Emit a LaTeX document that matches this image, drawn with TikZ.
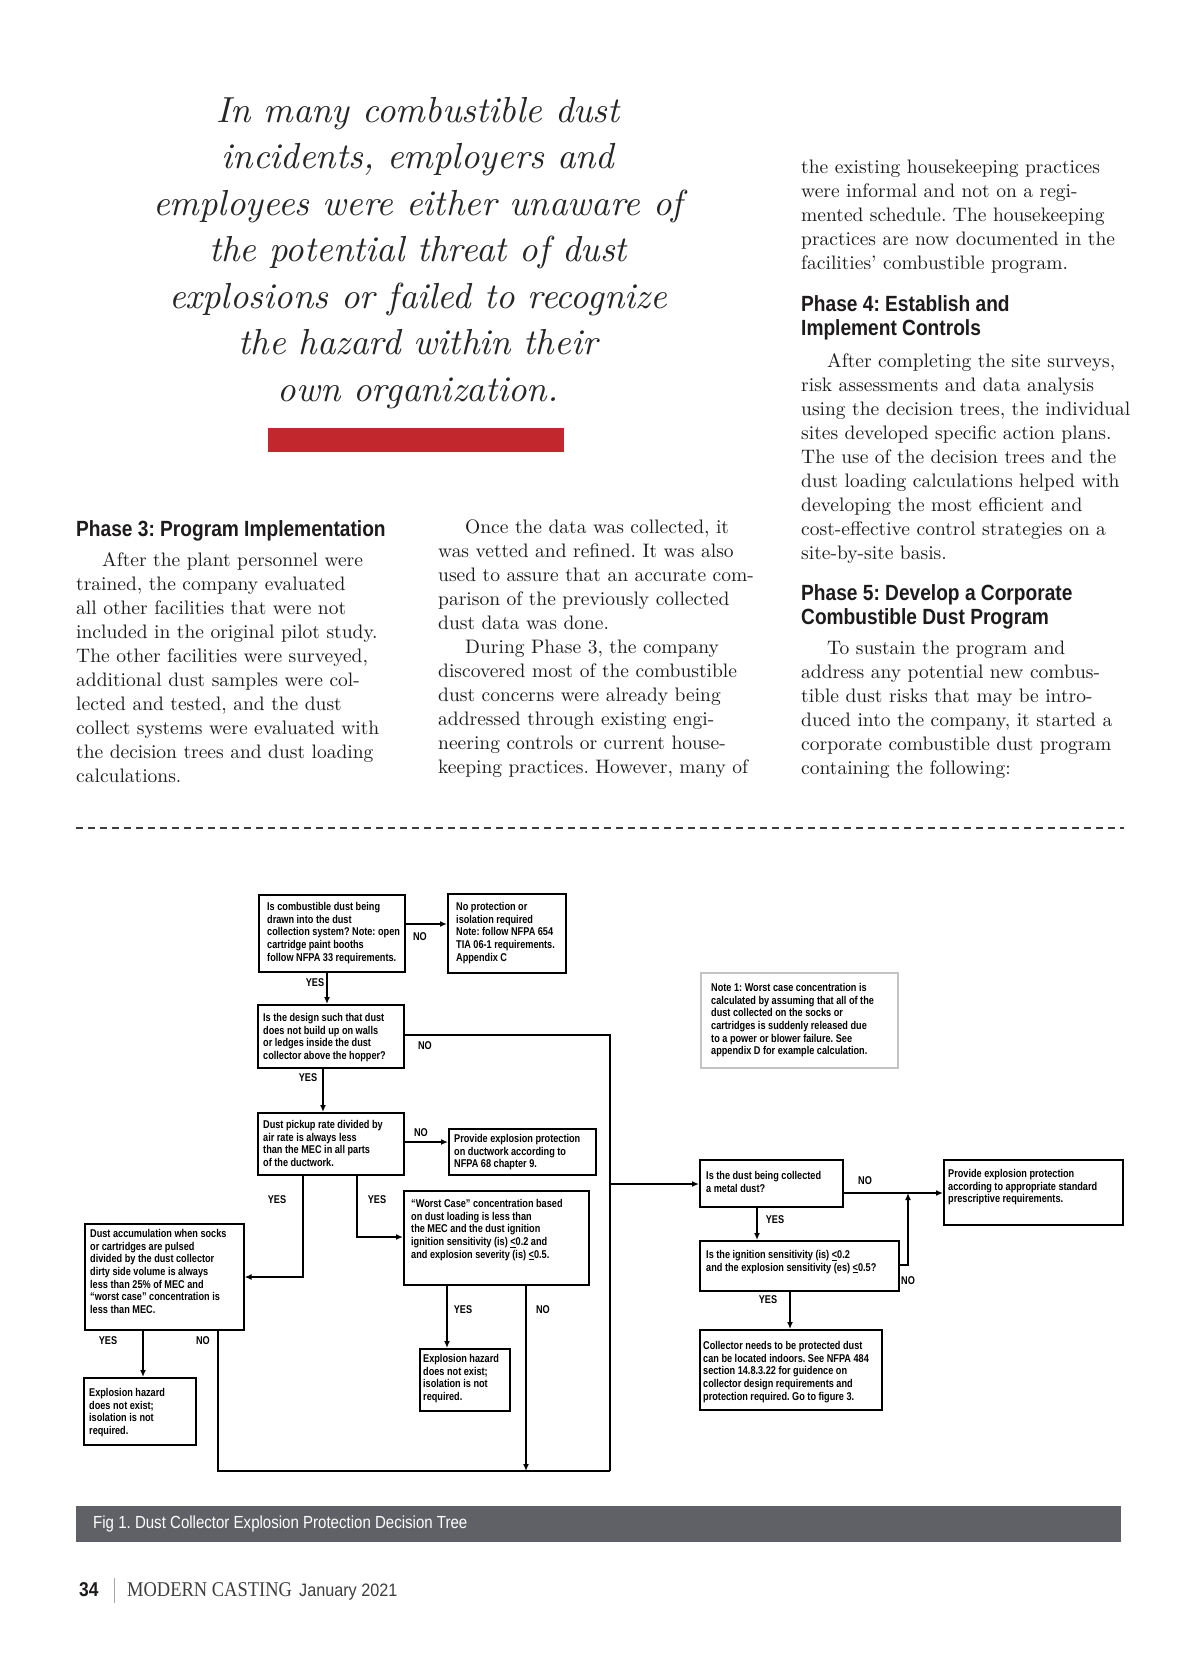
\documentclass[tikz,border=0pt]{standalone}
\usepackage{fontspec}
\usetikzlibrary{arrows.meta,calc}
\newfontfamily\chartfont[FakeStretch=0.81]{Liberation Sans}
\newfontfamily\headfont[FakeStretch=0.87]{Liberation Sans}
\newfontfamily\capfont[FakeStretch=0.86]{Liberation Sans}
\newfontfamily\datefont[FakeStretch=0.9]{Liberation Sans}
\newfontfamily\mastfont[FakeStretch=0.88]{Liberation Serif}
\newfontfamily\bodyfont{lmroman10-regular.otf}
\newfontfamily\quotefont{lmroman10-italic.otf}
\definecolor{ink}{HTML}{1E1B1C}
\definecolor{quoteink}{HTML}{262626}
\definecolor{redbar}{HTML}{C1272D}
\definecolor{capbar}{HTML}{5F6166}
\definecolor{notegray}{HTML}{C4C4C4}
\frenchspacing
\begin{document}
\begin{tikzpicture}[x=1pt,y=-1pt,
  pq/.style={anchor=base,inner sep=0,text=quoteink,font=\quotefont\fontsize{36.2}{46}\selectfont},
  head/.style={anchor=base west,inner sep=0,text=ink,font=\headfont\bfseries\fontsize{22}{24}\selectfont},
  bodyt/.style={anchor=base west,inner sep=0,text=ink,font=\bodyfont\fontsize{19.5}{24}\selectfont},
  fbox/.style={draw=black,line width=1.6pt,anchor=north west,inner sep=0},
  notebox/.style={draw=notegray,line width=2pt,anchor=north west,inner sep=0},
  ctext/.style={anchor=north west,inner sep=0,align=left,text=black,font=\chartfont\bfseries\fontsize{11.3}{12.7}\selectfont},
  clabel/.style={inner sep=0,text=black,font=\chartfont\bfseries\fontsize{11.3}{12}\selectfont},
  conn/.style={draw=black,line width=1.6pt},
  arr/.style={conn,-{Latex[length=7pt,width=6pt]}}
]
\useasboundingbox (0,0) rectangle (1200,1655);
\fill[white] (0,0) rectangle (1200,1655);

% pull quote
\foreach \tx [count=\i from 0] in {In many combustible dust,{incidents, employers and},employees were either unaware of,the potential threat of dust,explosions or failed to recognize,the hazard within their,own organization.}
  \node[pq] (pq\i) at (418,122+46.5*\i) {\tx};
\node[fill=redbar,minimum width=296,minimum height=24,anchor=north west,inner sep=0] (rbar) at (268,428) {};

% column 1
\node[head] (h3) at (76,536) {Phase 3: Program Implementation};
\foreach \dx/\tx [count=\i from 0] in {26/{After the plant personnel were},0/{trained, the company evaluated},0/{all other facilities that were not},0/{included in the original pilot study.},0/{The other facilities were surveyed,},0/{additional dust samples were col-},0/{lected and tested, and the dust},0/{collect systems were evaluated with},0/{the decision trees and dust loading},0/{calculations.}}
  \node[bodyt] (ca\i) at (76+\dx,566+24*\i) {\tx};

% column 2
\foreach \dx/\tx [count=\i from 0] in {27/{Once the data was collected, it},0/{was vetted and refined. It was also},0/{used to assure that an accurate com-},0/{parison of the previously collected},0/{dust data was done.},27/{During Phase 3, the company},0/{discovered most of the combustible},0/{dust concerns were already being},0/{addressed through existing engi-},0/{neering controls or current house-},0/{keeping practices. However, many of}}
  \node[bodyt] (cb\i) at (438+\dx,533+24*\i) {\tx};

% column 3
\foreach \dx/\tx [count=\i from 0] in {0/{the existing housekeeping practices},0/{were informal and not on a regi-},0/{mented schedule. The housekeeping},0/{practices are now documented in the},0/{facilities’ combustible program.}}
  \node[bodyt] (cc\i) at (801+\dx,173+24*\i) {\tx};
\node[head] (h4a) at (801,311) {Phase 4: Establish and};
\node[head] (h4b) at (801,335) {Implement Controls};
\foreach \dx/\tx [count=\i from 0] in {26/{After completing the site surveys,},0/{risk assessments and data analysis},0/{using the decision trees, the individual},0/{sites developed specific action plans.},0/{The use of the decision trees and the},0/{dust loading calculations helped with},0/{developing the most efficient and},0/{cost-effective control strategies on a},0/{site-by-site basis.}}
  \node[bodyt] (cd\i) at (801+\dx,367+24*\i) {\tx};
\node[head] (h5a) at (801,600) {Phase 5: Develop a Corporate};
\node[head] (h5b) at (801,624) {Combustible Dust Program};
\foreach \dx/\tx [count=\i from 0] in {26/{To sustain the program and},0/{address any potential new combus-},0/{tible dust risks that may be intro-},0/{duced into the company, it started a},0/{corporate combustible dust program},0/{containing the following:}}
  \node[bodyt] (ce\i) at (801+\dx,654+24*\i) {\tx};

% dashed separator
\draw[ink!85,line width=1.6pt,dash pattern=on 7.3pt off 4.7pt] (76,828) -- (1124,828);

% ---------------- flowchart boxes
\node[fbox,minimum width=146,minimum height=77] (b1) at (258,894) {};
\node[fbox,minimum width=118,minimum height=79] (b2) at (447,893) {};
\node[fbox,minimum width=146,minimum height=63] (b3) at (257,1004) {};
\node[fbox,minimum width=146,minimum height=62] (b4) at (257,1112) {};
\node[fbox,minimum width=147,minimum height=46] (b5) at (448,1128) {};
\node[fbox,minimum width=159,minimum height=106] (b6) at (84,1223) {};
\node[fbox,minimum width=185,minimum height=94] (b7) at (403,1190) {};
\node[fbox,minimum width=112,minimum height=67] (b8) at (83,1377) {};
\node[fbox,minimum width=90,minimum height=62] (b9) at (419,1348) {};
\node[fbox,minimum width=143,minimum height=47] (b10) at (699,1159) {};
\node[fbox,minimum width=179,minimum height=65] (b11) at (943,1159) {};
\node[fbox,minimum width=199,minimum height=50] (b12) at (699,1240) {};
\node[fbox,minimum width=182,minimum height=80] (b13) at (699,1329) {};
\node[notebox,minimum width=197,minimum height=95] (note) at (700,972) {};

\node[ctext] (b1t) at (267,902) {Is combustible dust being\\drawn into the dust\\collection system? Note: open\\cartridge paint booths\\follow NFPA 33 requirements.};
\node[ctext] (b2t) at (456,902) {No protection or\\isolation required\\Note: follow NFPA 654\\TIA 06-1 requirements.\\Appendix C};
\node[ctext] (b3t) at (263,1013) {Is the design such that dust\\does not build up on walls\\or ledges inside the dust\\collector above the hopper?};
\node[ctext] (b4t) at (263,1120) {Dust pickup rate divided by\\air rate is always less\\than the MEC in all parts\\of the ductwork.};
\node[ctext] (b5t) at (454,1134) {Provide explosion protection\\on ductwork according to\\NFPA 68 chapter 9.};
\node[ctext] (b6t) at (90,1229) {Dust accumulation when socks\\or cartridges are pulsed\\divided by the dust collector\\dirty side volume is always\\less than 25\% of MEC and\\“worst case” concentration is\\less than MEC.};
\node[ctext] (b7t) at (411,1199) {“Worst Case” concentration based\\on dust loading is less than\\the MEC and the dust ignition\\ignition sensitivity (is) \underline{<}0.2 and\\and explosion severity (is) \underline{<}0.5.};
\node[ctext] (b8t) at (89,1388) {Explosion hazard\\does not exist;\\isolation is not\\required.};
\node[ctext] (b9t) at (423,1354) {Explosion hazard\\does not exist;\\isolation is not\\required.};
\node[ctext] (b10t) at (706,1171) {Is the dust being collected\\a metal dust?};
\node[ctext] (b11t) at (948,1169) {Provide explosion protection\\according to appropriate standard\\prescriptive requirements.};
\node[ctext] (b12t) at (706,1250) {Is the ignition sensitivity (is) \underline{<}0.2\\and the explosion sensitivity (es) \underline{<}0.5?};
\node[ctext] (b13t) at (703,1341) {Collector needs to be protected dust\\can be located indoors. See NFPA 484\\section 14.8.3.22 for guidence on\\collector design requirements and\\protection required. Go to figure 3.};
\node[ctext] (notet) at (711,983) {Note 1: Worst case concentration is\\calculated by assuming that all of the\\dust collected on the socks or\\cartridges is suddenly released due\\to a power or blower failure. See\\appendix D for example calculation.};

% junction coordinates
\coordinate (m0) at (610,1035);
\coordinate (m1) at (610,1471);
\coordinate (m3) at (610,1184);
\coordinate (m4) at (526,1471);
\coordinate (n1) at (908,1193);

% connectors
\draw[arr] ([yshift=-30pt]b1.north east) -- ([yshift=-31pt]b2.north west);
\draw[arr] ([xshift=69pt]b1.south west) -- ([xshift=70pt]b3.north west);
\draw[conn] ([yshift=-31pt]b3.north east) -- (m0) -- (m1);
\draw[arr] ([xshift=66pt]b3.south west) -- ([xshift=66pt]b4.north west);
\draw[arr] ([yshift=-30pt]b4.north east) -- ([yshift=-14pt]b5.north west);
\draw[arr] ([xshift=46pt]b4.south west) |- ([yshift=-54pt]b6.north east);
\draw[arr] ([xshift=100pt]b4.south west) |- ([yshift=-47pt]b7.north west);
\draw[arr] ([xshift=59pt]b6.south west) -- ([xshift=60pt]b8.north west);
\draw[conn] ([xshift=134pt]b6.south west) |- (m1);
\draw[arr] ([xshift=44pt]b7.south west) -- ([xshift=28pt]b9.north west);
\draw[arr] ([xshift=123pt]b7.south west) -- (m4);
\draw[arr] (m3) -- (m3 -| b10.west);
\draw[arr] ([yshift=-34pt]b10.north east) -- ([yshift=-34pt]b11.north west);
\draw[arr] ([xshift=58pt]b10.south west) -- ([xshift=58pt]b12.north west);
\draw[arr] ([yshift=-25pt]b12.north east) -| (n1);
\draw[arr] ([xshift=91pt]b12.south west) -- ([xshift=91pt]b13.north west);

% connector labels
\node[clabel] (l1) at (420,937) {NO};
\node[clabel] (l2) at (315,983) {YES};
\node[clabel] (l3) at (425,1046) {NO};
\node[clabel] (l4) at (308,1078) {YES};
\node[clabel] (l5) at (421,1133) {NO};
\node[clabel] (l6) at (277,1200) {YES};
\node[clabel] (l7) at (377,1200) {YES};
\node[clabel] (l8) at (108,1341) {YES};
\node[clabel] (l9) at (203,1341) {NO};
\node[clabel] (l10) at (463,1310) {YES};
\node[clabel] (l11) at (543,1310) {NO};
\node[clabel] (l12) at (865,1181) {NO};
\node[clabel] (l13) at (775,1220) {YES};
\node[clabel] (l14) at (908,1281) {NO};
\node[clabel] (l15) at (768,1300) {YES};

% caption bar
\node[fill=capbar,minimum width=1045,minimum height=36,anchor=north west,inner sep=0] (capbar) at (76,1506) {};
\node[anchor=west,inner sep=0,text=white,font=\capfont\fontsize{17.5}{19}\selectfont] (captxt) at (93,1524) {Fig 1. Dust Collector Explosion Protection Decision Tree};

% footer
\node[anchor=base west,inner sep=0,text=ink,font=\headfont\bfseries\fontsize{20}{21}\selectfont] (pgno) at (79,1596) {34};
\draw[gray!70,line width=0.8pt] (114,1578) -- (114,1603);
\node[anchor=base west,inner sep=0,text=ink!85,font=\mastfont\fontsize{21}{22}\selectfont] (mast) at (127,1596) {MODERN CASTING};
\node[anchor=base west,inner sep=0,text=ink!85,font=\datefont\fontsize{18}{20}\selectfont] (date) at (299,1596) {January 2021};
\end{tikzpicture}
\end{document}
